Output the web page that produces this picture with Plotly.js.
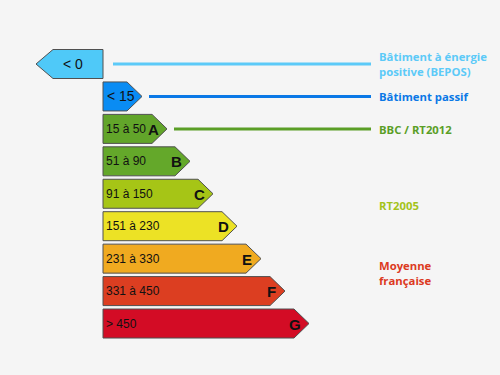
<!DOCTYPE html>
<html>
<head>
<meta charset="utf-8">
<script src="https://cdn.plot.ly/plotly-3.0.1.min.js"></script>
<style>html,body{margin:0;padding:0;background:#f5f5f5;}#chart{width:500px;height:375px;}</style>
</head>
<body>
<div id="chart"></div>
<script>
// ---- data ----
var classes   = ['', '', 'A', 'B', 'C', 'D', 'E', 'F', 'G'];
var ranges    = ['< 0', '< 15', '15 à 50', '51 à 90', '91 à 150', '151 à 230', '231 à 330', '331 à 450', '> 450'];
var tipX      = [36, 142, 167, 190, 213, 237, 261, 285, 309];   // arrow extent on the scale
var fills     = ['#4fc9f8', '#0a8cf3', '#62a52a', '#64a82a', '#a6c516', '#ece225', '#f0aa20', '#dc3e21', '#d30c25'];
var refLabels = ['Bâtiment à énergie<br>positive (BEPOS)', 'Bâtiment passif', 'BBC / RT2012', 'RT2005', 'Moyenne<br>française'];
var refRow    = [0, 1, 2, 4.35, 6.43];
var refColors = ['#5ccaf8', '#0a78e6', '#5a9e26', '#a3c31a', '#dc3a1f'];
var refLine   = [true, true, true, false, false];

// ---- layout helpers ----
var baseX = 103, y0 = 64, step = 32.44, half = 14.5, depth = 15;
function yc(i){ return y0 + i*step; }

var traces = [];
var annotations = [];
classes.forEach(function(c, i){
  var y = yc(i), t = y - half, b = y + half, xs, ys;
  if (i === 0) {
    xs = [baseX, tipX[i] + 17, tipX[i], tipX[i] + 17, baseX, baseX];
  } else {
    xs = [baseX, tipX[i] - depth, tipX[i], tipX[i] - depth, baseX, baseX];
  }
  ys = [t, t, y, b, b, t];
  traces.push({type:'scatter', mode:'lines', x:xs, y:ys, fill:'toself', fillcolor:fills[i],
    line:{color:'#505050', width:1}, hoverinfo:'skip', showlegend:false});
  if (i <= 1) {
    annotations.push({x: i === 0 ? 73 : 105, y: y, xref:'x', yref:'y', text: ranges[i],
      xanchor: i === 0 ? 'center' : 'left', yanchor:'middle', showarrow:false,
      font:{family:'Liberation Sans, Arial', size:14, color:'#111'}});
  } else {
    annotations.push({x: 104, y: y, xref:'x', yref:'y', text: ranges[i], xanchor:'left', yanchor:'middle',
      showarrow:false, font:{family:'Liberation Sans, Arial', size:12, color:'#111'}});
    annotations.push({x: tipX[i] - 14, y: y + 0.5, xref:'x', yref:'y', text: '<b>' + c + '</b>', xanchor:'center', yanchor:'middle',
      showarrow:false, font:{family:'Liberation Sans, Arial', size:15, color:'#111'}});
  }
});

refLabels.forEach(function(lab, k){
  var r = refRow[k];
  var y = yc(r);
  if (refLine[k]) {
    traces.push({type:'scatter', mode:'lines', x:[tipX[r] + (r === 0 ? 77 : 7), 371], y:[y, y],
      line:{color:refColors[k], width:3}, hoverinfo:'skip', showlegend:false});
  }
  annotations.push({x: 377, y: y + (k === 0 ? 0 : 0.5), xref:'x', yref:'y', text:'<b>' + lab + '</b>', xanchor:'left', yanchor:'middle',
    align:'left', showarrow:false, font:{family:'Open Sans', size:11.3, color:refColors[k]}});
});

var layout = {
  width:500, height:375,
  margin:{l:0, r:0, t:0, b:0},
  paper_bgcolor:'#f5f5f5', plot_bgcolor:'#f5f5f5',
  xaxis:{range:[0,500], visible:false, fixedrange:true},
  yaxis:{range:[375,0], visible:false, fixedrange:true},
  annotations: annotations,
  showlegend:false
};
Plotly.newPlot('chart', traces, layout, {displayModeBar:false, staticPlot:true});
</script>
</body>
</html>
